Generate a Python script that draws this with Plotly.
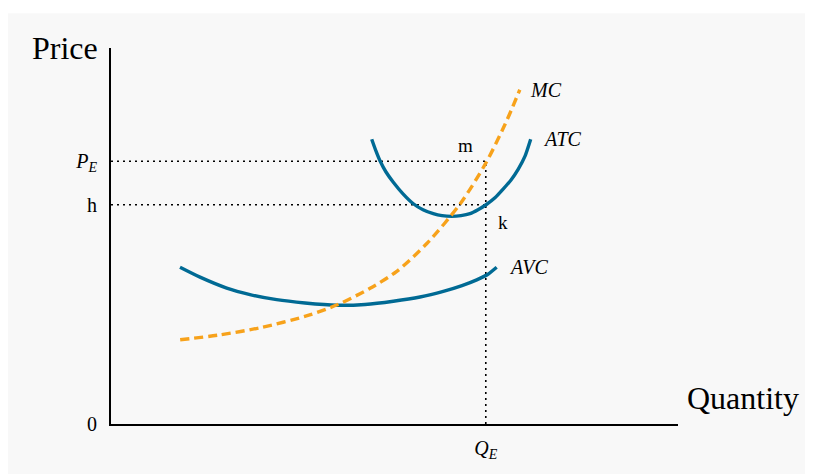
import plotly.graph_objects as go

# Data (quantity, price units)
atc_q = [4.598, 4.674, 4.744, 4.850, 4.979, 5.150, 5.332, 5.503, 5.684, 5.838, 6.009,
         6.173, 6.332, 6.473, 6.614, 6.772, 6.919, 7.055, 7.183, 7.302, 7.402]
atc_p = [7.573, 7.256, 7.000, 6.702, 6.430, 6.121, 5.858, 5.699, 5.594, 5.541, 5.522,
         5.541, 5.594, 5.699, 5.831, 6.016, 6.253, 6.491, 6.781, 7.124, 7.573]

mc_q = [1.22, 1.92, 2.63, 3.46, 3.99, 4.57, 5.04, 5.57, 6.16, 6.60, 6.95, 7.21]
mc_p = [2.24, 2.37, 2.56, 2.88, 3.17, 3.61, 4.06, 4.80, 5.86, 6.91, 7.97, 8.89]

avc_q = [1.217, 1.570, 2.041, 2.451, 2.922, 3.422, 3.981, 4.480, 4.979, 5.450,
         5.861, 6.190, 6.450, 6.649, 6.802]
avc_p = [4.169, 3.905, 3.615, 3.443, 3.306, 3.219, 3.158, 3.179, 3.264, 3.377,
         3.528, 3.681, 3.834, 3.984, 4.169]

P_E = 6.99
H = 5.83
Q_E = 6.61

y_tickvals = [0, H, P_E]
y_ticktext = ["0", "h", "<i>P</i><sub><i>E</i></sub>"]
x_tickvals = [Q_E]
x_ticktext = ["<i>Q</i><sub><i>E</i></sub>"]

BLUE = "#006a94"
ORANGE = "#f7a21b"
FONT = "Liberation Serif"
DOT = dict(color="black", width=1.6, dash="2px,4px")

fig = go.Figure()

# dotted guide lines
fig.add_trace(go.Scatter(x=[0, Q_E], y=[P_E, P_E], mode="lines", line=DOT, hoverinfo="skip", showlegend=False))
fig.add_trace(go.Scatter(x=[0, Q_E], y=[H, H], mode="lines", line=DOT, hoverinfo="skip", showlegend=False))
fig.add_trace(go.Scatter(x=[Q_E, Q_E], y=[0, P_E], mode="lines", line=DOT, hoverinfo="skip", showlegend=False))

fig.add_trace(go.Scatter(x=avc_q, y=avc_p, mode="lines",
                         line=dict(color=BLUE, width=3.4, shape="spline", smoothing=0.6), showlegend=False))
fig.add_trace(go.Scatter(x=atc_q, y=atc_p, mode="lines",
                         line=dict(color=BLUE, width=3.4, shape="spline", smoothing=0.6), showlegend=False))
fig.add_trace(go.Scatter(x=mc_q, y=mc_p, mode="lines",
                         line=dict(color=ORANGE, width=3.4, shape="spline", smoothing=0.8, dash="9px,5px"),
                         showlegend=False))

annotations = [
    dict(text="Price", x=-0.019, y=1.0, xref="paper", yref="paper", xanchor="right", yanchor="middle",
         showarrow=False, font=dict(size=32, family=FONT, color="black")),
    dict(text="Quantity", x=1.012, y=0.07, xref="paper", yref="paper", xanchor="left", yanchor="middle",
         showarrow=False, font=dict(size=32, family=FONT, color="black")),
    dict(text="<i>MC</i>", x=mc_q[-1], y=mc_p[-1], xanchor="left", yanchor="middle", xshift=8,
         showarrow=False, font=dict(size=20, family=FONT, color="black")),
    dict(text="<i>ATC</i>", x=atc_q[-1], y=atc_p[-1], xanchor="left", yanchor="middle", xshift=10,
         showarrow=False, font=dict(size=20, family=FONT, color="black")),
    dict(text="<i>AVC</i>", x=avc_q[-1], y=avc_p[-1], xanchor="left", yanchor="middle", xshift=10,
         showarrow=False, font=dict(size=20, family=FONT, color="black")),
    dict(text="m", x=Q_E, y=P_E, xanchor="center", yanchor="bottom", xshift=-20, yshift=3,
         showarrow=False, font=dict(size=19, family=FONT, color="black")),
    dict(text="k", x=Q_E, y=H, xanchor="left", yanchor="top", xshift=10, yshift=-5,
         showarrow=False, font=dict(size=19, family=FONT, color="black")),
]

fig.update_layout(
    width=805, height=466,
    margin=dict(l=103, r=135, t=40, b=47),
    paper_bgcolor="white",
    plot_bgcolor="rgba(0,0,0,0)",
    shapes=[dict(type="rect", xref="paper", yref="paper", x0=-0.19, x1=1.3, y0=-0.2, y1=1.0923,
                 fillcolor="#f8f8f8", line=dict(width=0), layer="below")],
    annotations=annotations,
    font=dict(family=FONT, size=20, color="black"),
    xaxis=dict(range=[0, 10], showgrid=False, zeroline=False, showline=True, linecolor="black", linewidth=2,
               tickvals=x_tickvals, ticktext=x_ticktext, ticks="", ticklabelstandoff=5,
               tickfont=dict(size=20, family=FONT, color="black")),
    yaxis=dict(range=[0, 10], showgrid=False, zeroline=False, showline=True, linecolor="black", linewidth=2,
               tickvals=y_tickvals, ticktext=y_ticktext, ticks="", ticklabelstandoff=8,
               tickfont=dict(size=20, family=FONT, color="black")),
)

fig.write_html("out.html")
